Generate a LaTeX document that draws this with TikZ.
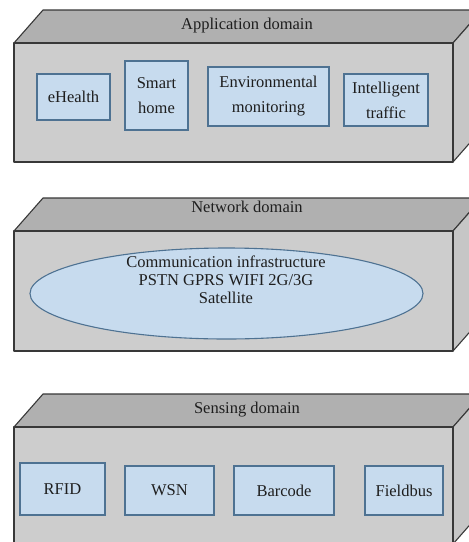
\documentclass[tikz,border=0pt]{standalone}
\usepackage{fontspec}
\setmainfont{Liberation Serif}
\usetikzlibrary{shapes.geometric}

\definecolor{frontgray}{HTML}{CDCDCD}
\definecolor{topgray}{HTML}{B0B0B0}
\definecolor{sidegray}{HTML}{C6C6C6}
\definecolor{edgegray}{HTML}{383838}
\definecolor{cellfill}{HTML}{C7DBEE}
\definecolor{celledge}{HTML}{4E7292}
\definecolor{inktext}{HTML}{1E1E1E}

% one layer slab: front face from y=#1 to y=#2, depth offset (29,-33)
\newcommand{\layerslab}[2]{%
  \filldraw[slabline, fill=topgray]
    (14,#1) -- (43,#1-33) -- (482,#1-33) -- (453,#1) -- cycle;
  \filldraw[slabline, fill=sidegray]
    (453,#1) -- (482,#1-33) -- (482,#2-33) -- (453,#2) -- cycle;
  \filldraw[slabline, fill=frontgray]
    (14,#1) rectangle (453,#2);
}

\tikzset{
  slabline/.style={draw=edgegray, line width=1.1pt, line join=round},
  domainlabel/.style={text=inktext, font=\fontsize{16.5}{18}\selectfont},
  cell/.style={draw=celledge, line width=1.1pt, fill=cellfill, text=inktext,
    inner sep=0pt, align=center, font=\fontsize{16.5}{25}\selectfont},
  cloud/.style={ellipse, draw=celledge, line width=1.1pt, fill=cellfill,
    inner sep=0pt, minimum width=393pt, minimum height=91pt},
}

\begin{document}
\begin{tikzpicture}[x=1pt, y=-1pt]
\useasboundingbox (0,0) rectangle (469,542);
\fill[white] (0,0) rectangle (469,542);
\clip (0,0) rectangle (469,542);

% application layer
\layerslab{43}{162}
\node[domainlabel] (appl) at (247,26) {Application domain};
\node[cell, minimum width=73pt, minimum height=46pt] (ehealth) at (73.5,97) {eHealth};
\node[cell, minimum width=63pt, minimum height=69pt] (smarthome) at (156.5,95.5) {Smart\\home};
\node[cell, minimum width=121pt, minimum height=59pt] (envmon) at (268.5,96.5) {Environmental\\monitoring};
\node[cell, minimum width=84pt, minimum height=52pt] (traffic) at (386,100) {Intelligent\\traffic};

% network layer
\layerslab{231}{351}
\node[domainlabel] (netl) at (247,207) {Network domain};
\node[cloud] (comm) at (226.5,293.5) {};
\node[text=inktext, align=center, font=\fontsize{16.5}{18}\selectfont] (commtext) at (226,280)
  {Communication infrastructure\\PSTN GPRS WIFI 2G/3G\\Satellite};

% sensing layer
\layerslab{427}{544}
\node[domainlabel] (sensl) at (247,410) {Sensing domain};
\node[cell, minimum width=85pt, minimum height=52pt] (rfid) at (62.5,489) {RFID};
\node[cell, minimum width=89pt, minimum height=49pt] (wsn) at (169.5,490.5) {WSN};
\node[cell, minimum width=100pt, minimum height=49pt] (barcode) at (284,490.5) {Barcode};
\node[cell, minimum width=78pt, minimum height=49pt] (fieldbus) at (404,490.5) {Fieldbus};
\end{tikzpicture}
\end{document}
